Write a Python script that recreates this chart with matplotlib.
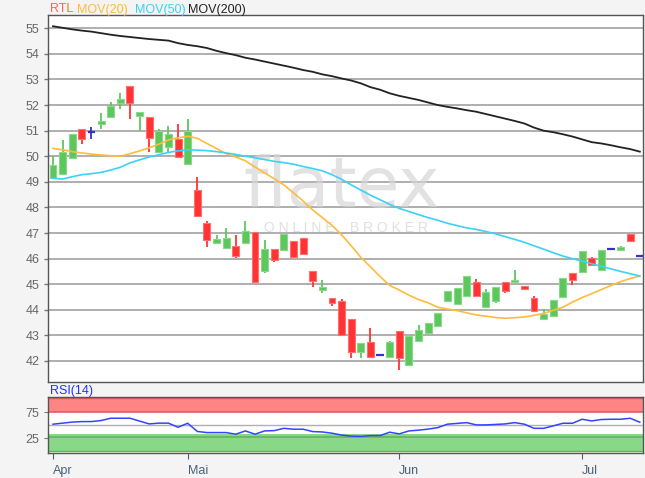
import numpy as np
import matplotlib
matplotlib.use("Agg")
import matplotlib.pyplot as plt

plt.rcParams['font.family'] = ['Liberation Sans', 'DejaVu Sans']

# ---------------- data ----------------
opens = [49.16, 49.29, 49.92, 51.06, 50.96, 51.27, 51.54, 52.07, 52.74, 51.57,
         51.52, 50.16, 50.37, 50.66, 49.70, 48.68, 47.41, 46.60, 46.41, 46.48,
         46.60, 47.05, 45.52, 46.39, 46.34, 46.67, 46.82, 45.51, 44.77, 44.46,
         44.33, 43.63, 42.34, 42.76, 42.22, 42.17, 43.17, 41.84, 42.78, 43.08,
         43.38, 44.36, 44.23, 44.55, 45.10, 44.12, 44.33, 45.08, 45.10, 44.94,
         44.47, 43.65, 43.76, 44.50, 45.45, 45.48, 46.01, 45.57, 46.38, 46.32,
         46.96, 46.11]
closes = [49.66, 50.18, 50.87, 50.66, 50.96, 51.39, 51.96, 52.22, 52.10, 51.71,
          50.72, 50.98, 50.87, 49.97, 50.98, 47.68, 46.73, 46.77, 46.80, 46.11,
          47.09, 45.10, 46.39, 45.95, 46.97, 46.07, 46.17, 45.12, 44.88, 44.28,
          43.00, 42.36, 42.70, 42.14, 42.22, 42.74, 42.10, 42.98, 43.21, 43.50,
          43.86, 44.75, 44.86, 45.32, 44.55, 44.71, 44.89, 44.73, 45.16, 44.81,
          43.97, 43.84, 44.38, 45.23, 45.15, 46.28, 45.75, 46.34, 46.38, 46.44,
          46.69, 46.11]
highs = [50.00, 50.63, 50.87, 51.06, 51.13, 51.68, 52.12, 52.46, 52.74, 51.71,
         51.52, 51.05, 51.19, 51.26, 51.44, 49.20, 47.47, 46.91, 47.18, 46.92,
         47.47, 47.05, 46.73, 46.39, 46.97, 46.67, 46.82, 45.51, 45.16, 44.46,
         44.41, 43.63, 42.70, 43.28, 42.22, 42.80, 43.17, 42.98, 43.41, 43.50,
         43.86, 44.75, 44.86, 45.32, 45.19, 44.80, 44.89, 45.08, 45.55, 44.94,
         44.54, 44.05, 44.38, 45.23, 45.45, 46.28, 46.05, 46.34, 46.38, 46.50,
         46.96, 46.11]
lows = [49.16, 49.29, 49.92, 50.48, 50.68, 51.07, 51.54, 51.83, 51.45, 51.00,
        50.18, 50.16, 50.18, 49.97, 49.70, 47.68, 46.46, 46.60, 46.41, 46.02,
        46.60, 45.10, 45.45, 45.86, 46.34, 46.07, 46.17, 44.88, 44.64, 44.16,
        43.00, 42.10, 42.10, 42.14, 42.22, 42.17, 41.65, 41.84, 42.78, 43.08,
        43.38, 44.36, 44.23, 44.55, 44.55, 44.12, 44.25, 44.67, 45.10, 44.81,
        43.93, 43.65, 43.76, 44.50, 44.97, 45.48, 45.75, 45.57, 46.38, 46.32,
        46.65, 46.11]

mov20 = [50.31, 50.25, 50.18, 50.13, 50.08, 50.05, 50.02, 50.00, 50.10, 50.21,
         50.33, 50.47, 50.64, 50.72, 50.78, 50.70, 50.50, 50.30, 50.10, 49.97,
         49.82, 49.58, 49.35, 49.12, 48.88, 48.57, 48.25, 47.90, 47.60, 47.30,
         46.93, 46.50, 46.05, 45.68, 45.30, 44.95, 44.77, 44.57, 44.40, 44.27,
         44.10, 44.03, 43.97, 43.88, 43.80, 43.75, 43.70, 43.67, 43.69, 43.72,
         43.78, 43.86, 43.98, 44.10, 44.30, 44.48, 44.63, 44.79, 44.95, 45.10,
         45.22, 45.32]
mov50 = [49.14, 49.11, 49.20, 49.28, 49.32, 49.37, 49.46, 49.57, 49.74, 49.86,
         49.97, 50.06, 50.15, 50.21, 50.25, 50.24, 50.22, 50.18, 50.13, 50.07,
         50.00, 49.94, 49.87, 49.80, 49.75, 49.69, 49.60, 49.52, 49.43, 49.28,
         49.10, 48.88, 48.68, 48.48, 48.30, 48.12, 47.96, 47.84, 47.72, 47.60,
         47.50, 47.38, 47.29, 47.20, 47.14, 47.06, 46.97, 46.86, 46.75, 46.64,
         46.50, 46.37, 46.23, 46.10, 46.00, 45.90, 45.80, 45.70, 45.60, 45.50,
         45.41, 45.32]
mov200 = [55.08, 55.02, 54.96, 54.91, 54.87, 54.81, 54.75, 54.70, 54.66, 54.62,
          54.58, 54.55, 54.52, 54.42, 54.35, 54.30, 54.23, 54.12, 54.03, 53.95,
          53.85, 53.78, 53.70, 53.62, 53.54, 53.46, 53.37, 53.30, 53.20, 53.13,
          53.04, 52.96, 52.85, 52.70, 52.60, 52.46, 52.36, 52.28, 52.20, 52.10,
          52.00, 51.93, 51.87, 51.80, 51.74, 51.65, 51.56, 51.47, 51.38, 51.28,
          51.12, 51.00, 50.94, 50.86, 50.77, 50.66, 50.55, 50.50, 50.43, 50.35,
          50.28, 50.18]
rsi = [52, 54, 56, 57, 57, 59, 63.5, 63.5, 63.5, 58,
       52.5, 54, 54, 46, 53.8, 38, 35.8, 35.8, 35.8, 32.7,
       39, 32.7, 39, 39.6, 44, 42.3, 42.3, 37.7, 37, 34.6,
       31, 29, 28.5, 30, 30, 36.5, 33.3, 39, 40.5, 42.5,
       45.4, 52, 53.5, 55, 50.6, 50.6, 51.5, 52.5, 55, 52,
       44, 44, 48.7, 53.8, 53.8, 61.5, 58.3, 61, 61.5, 61.5,
       63.4, 55.8]

month_labels = ["Apr", "Mai", "Jun", "Jul"]
month_idx = [0, 14, 36, 55]
price_ticks = list(range(42, 56))
rsi_ticks = [25, 75]

# ---------------- figure ----------------
W, H = 645, 478
fig = plt.figure(figsize=(W / 100, H / 100), dpi=100, facecolor='#f4f4f4')

def px_axes(l, t, r, b):
    return fig.add_axes([l / W, 1 - b / H, (r - l) / W, (b - t) / H])

ax = px_axes(48, 15, 643, 381.7)
ax2 = px_axes(48, 396.7, 643, 452.7)

n = len(opens)
x = np.arange(n)
o = np.array(opens); c = np.array(closes); hi = np.array(highs); lo = np.array(lows)

GREEN = '#5cc85c'; GREEN_E = '#8ad88a'
RED = '#ff3333'; RED_E = '#ff7070'
BLUE = '#3333cc'

for i in range(n):
    if c[i] > o[i]:
        fc, ec = GREEN, GREEN_E
    elif c[i] < o[i]:
        fc, ec = RED, RED_E
    else:
        fc = ec = BLUE
    if hi[i] > lo[i]:
        ax.vlines(x[i], lo[i], hi[i], color=fc, lw=1.3, zorder=3)
    if c[i] == o[i]:
        ax.hlines(o[i], x[i] - 0.38, x[i] + 0.38, color=BLUE, lw=1.6, zorder=4)
    else:
        ax.bar(x[i], abs(c[i] - o[i]), bottom=min(o[i], c[i]), width=0.72,
               color=fc, edgecolor=ec, linewidth=0.8, zorder=4)

ax.plot(x, mov20, color='#ffbb3c', lw=1.2, zorder=5)
ax.plot(x, mov50, color='#3cd2f5', lw=1.2, zorder=5)
ax.plot(x, mov200, color='#222222', lw=1.3, zorder=5)

xmin, xmax = -0.52, 61.33
ax.set_xlim(xmin, xmax)
ax.set_ylim(41.19, 55.52)
ax.set_facecolor('white')
ax.set_yticks(price_ticks)
ax.set_yticklabels([str(t) for t in price_ticks])
ax.yaxis.grid(True, color='#a8a8a8', lw=1.3, zorder=0)
ax.set_axisbelow(True)
ax.set_xticks([])
ax.tick_params(axis='y', length=3, width=1, color='#777777', labelcolor='#666666',
               labelsize=9, pad=3)
for s in ax.spines.values():
    s.set_color('#555555'); s.set_linewidth(1.0)

# watermark
ax.text(0.493, 0.53, "flatex", transform=ax.transAxes, ha='center', va='center',
        fontsize=50, color='#d6d6d6', alpha=0.7, zorder=1, family='DejaVu Sans')
ax.text(0.50, 0.42, "O N L I N E    B R O K E R", transform=ax.transAxes,
        ha='center', va='center', fontsize=10, color='#d6d6d6', alpha=0.75, zorder=1)

# legend-like header
hdr = [("RTL", '#ff6a3d', 50), ("MOV(20)", '#ffbb3c', 76.5),
       ("MOV(50)", '#3cd2f5', 135), ("MOV(200)", '#222222', 188)]
for txt, col, xp in hdr:
    fig.text(xp / W, 1 - 9.5 / H, txt, color=col, fontsize=9, ha='left', va='center')

# ---------------- RSI panel ----------------
ax2.set_facecolor('white')
ax2.set_xlim(xmin, xmax)
ax2.set_ylim(-3, 105)
ax2.axhspan(75, 102, color='#ff8484', zorder=1, lw=0)
ax2.axhline(75, color='#d86060', lw=1.2, zorder=2)
ax2.axhline(102, color='#d86060', lw=1.0, zorder=2)
ax2.axhspan(0, 34, color='#88d888', zorder=1, lw=0)
ax2.axhline(27, color='#5cb85c', lw=1.2, zorder=2)
ax2.axhline(0.5, color='#5cb85c', lw=1.0, zorder=2)
ax2.axhline(50, color='#b0b0b0', lw=1.0, zorder=2)
ax2.plot(x, rsi, color='#3344ff', lw=1.1, zorder=3)
ax2.set_yticks(rsi_ticks)
ax2.set_yticklabels([str(t) for t in rsi_ticks])
ax2.set_xticks(month_idx)
ax2.set_xticklabels(month_labels, ha='left')
ax2.tick_params(axis='y', length=3, color='#777777', labelcolor='#666666', labelsize=9)
ax2.tick_params(axis='x', length=4, color='#4a6077', labelcolor='#4a6077', labelsize=9,
                pad=5)
for lbl in ax2.get_xticklabels():
    lbl.set_horizontalalignment('left')
for s in ax2.spines.values():
    s.set_color('#555555'); s.set_linewidth(1.0)

fig.text(50 / W, 1 - 391 / H, "RSI(14)", color='#2233ff', fontsize=9, ha='left', va='center')

fig.savefig('out.png', dpi=100, facecolor=fig.get_facecolor())
